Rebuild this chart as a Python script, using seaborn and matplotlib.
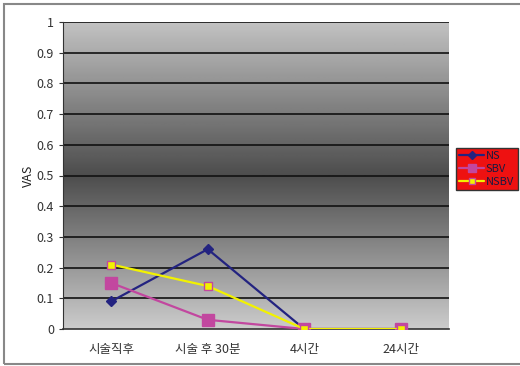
import numpy as np
import pandas as pd
import seaborn as sns
import matplotlib.pyplot as plt
from matplotlib.patches import Rectangle
from matplotlib.lines import Line2D

categories = ["시술직후", "시술 후 30분", "4시간", "24시간"]
ns = [0.09, 0.26, 0.0, 0.0]
sbv = [0.15, 0.03, 0.0, 0.0]
nsbv = [0.21, 0.14, 0.0, 0.0]
yticks = [0, 0.1, 0.2, 0.3, 0.4, 0.5, 0.6, 0.7, 0.8, 0.9, 1]
ytick_labels = ["0", "0.1", "0.2", "0.3", "0.4", "0.5", "0.6", "0.7", "0.8", "0.9", "1"]

sns.set_style("white")
plt.rcParams['font.family'] = ['Noto Sans CJK KR', 'DejaVu Sans']

df = pd.DataFrame({
    "time": categories * 3,
    "VAS": ns + sbv + nsbv,
    "series": ["NS"] * 4 + ["SBV"] * 4 + ["NSBV"] * 4,
})

fig = plt.figure(figsize=(5.2, 3.66), dpi=100)
ax = fig.add_axes([63 / 520, (366 - 329) / 366, (449 - 63) / 520, (329 - 22) / 366])

# gradient background
t = np.linspace(0, 1, 256)
g = np.interp(t, [0, 0.5, 1], [0.80, 0.30, 0.76])
ax.imshow(g[:, None], cmap="gray", vmin=0, vmax=1, aspect="auto",
          extent=[0, 1, 0, 1], transform=ax.transAxes, zorder=0, origin="lower")

for y in yticks[1:]:
    ax.axhline(y, color="#111111", lw=1.2, zorder=1)

styles = {
    "NS": dict(color="#232380", marker="D", ms=5, mec="#232380", mfc="#232380"),
    "SBV": dict(color="#C2479F", marker="s", ms=8, mec="#C2479F", mfc="#C2479F"),
    "NSBV": dict(color="#F2F200", marker="s", ms=6, mec="#C2479F", mfc="#F2F200"),
}
palette = {k: v["color"] for k, v in styles.items()}
sns.lineplot(data=df, x="time", y="VAS", hue="series", palette=palette,
             sort=False, ax=ax, lw=1.6, legend=False, zorder=3)
for line, name in zip(ax.get_lines()[-3:], ["NS", "SBV", "NSBV"]):
    s = styles[name]
    line.set_marker(s["marker"]); line.set_markersize(s["ms"])
    line.set_markerfacecolor(s["mfc"]); line.set_markeredgecolor(s["mec"])
    line.set_markeredgewidth(1)

ax.set_xlim(-0.5, 3.5)
ax.set_ylim(0, 1)
ax.set_yticks(yticks)
ax.set_yticklabels(ytick_labels, fontsize=9, color="#333333")
ax.set_xticks(range(4))
ax.set_xticklabels(categories, fontsize=9, color="#333333")
ax.tick_params(axis="x", length=0, pad=10)
ax.tick_params(axis="y", length=3, left=True, color="#333333")
ax.set_xlabel("")
ax.set_ylabel("VAS", fontsize=9, labelpad=1, color="#222222")
for sp in ["top", "right"]:
    ax.spines[sp].set_visible(False)
ax.spines["left"].set_color("#333333")
ax.spines["bottom"].set_color("#333333")
ax.spines["bottom"].set_linewidth(1.2)

# legend
handles = [Line2D([], [], color=styles[n]["color"], marker=styles[n]["marker"],
                  ms=styles[n]["ms"] * 0.8, mfc=styles[n]["mfc"], mec=styles[n]["mec"], lw=1.6)
           for n in ["NS", "SBV", "NSBV"]]
leg = fig.legend(handles, ["NS", "SBV", "NSBV"], loc="upper left",
                 bbox_to_anchor=(456 / 520, 1 - 148 / 366), frameon=True,
                 fontsize=8, handlelength=2.2, handletextpad=0.2, borderpad=0.3,
                 labelspacing=0.25, borderaxespad=0, fancybox=False)
leg.get_frame().set_facecolor("#EE1111")
leg.get_frame().set_edgecolor("#333333")
leg.get_frame().set_alpha(1)
for txt in leg.get_texts():
    txt.set_color("#1a1a40")

# outer border
fig.patches.append(Rectangle((4 / 520, 2 / 366), 1.2, 1 - 6 / 366, transform=fig.transFigure,
                             fill=False, edgecolor="#888888", lw=1.5))

fig.savefig("out.png", dpi=100)
